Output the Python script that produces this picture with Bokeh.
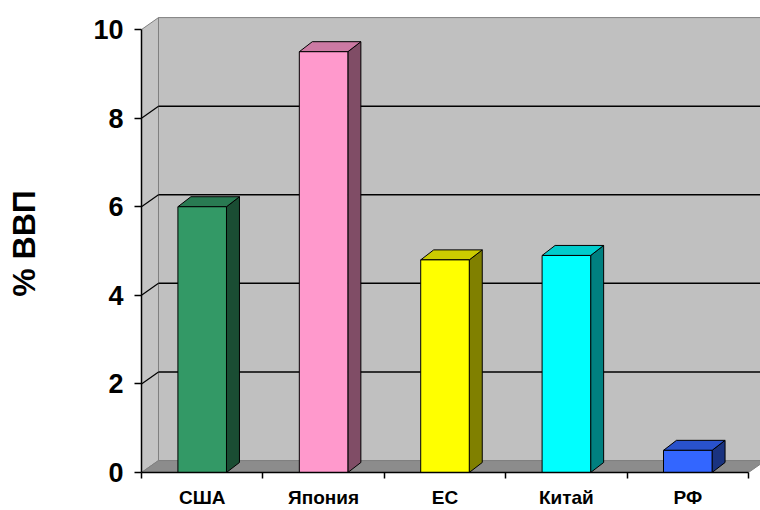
from bokeh.plotting import figure
from bokeh.models import FixedTicker, Range1d
from bokeh.embed import file_html
from bokeh.resources import INLINE

# ---- data ----
categories = ["США", "Япония", "ЕС", "Китай", "РФ"]
values = [6.0, 9.5, 4.8, 4.9, 0.5]
y_ticks = [0, 2, 4, 6, 8, 10]
y_label = "% ВВП"

# ---- styles ----
front_colors = ["#339966", "#FF99CC", "#FFFF00", "#00FFFF", "#3366FF"]
top_colors = ["#297A52", "#CC7AA3", "#CCCC00", "#00CCCC", "#2952CC"]
side_colors = ["#1A4D33", "#804D66", "#808000", "#008080", "#1A3380"]

FONT = "Liberation Sans"
N = len(categories)
Y_MAX = y_ticks[-1]
DX, DY = 0.14, 0.27      # wall depth offset (data units)
BDX, BDY = 0.107, 0.226  # bar depth offset (data units)
BAR_W = 0.40

p = figure(width=760, height=510,
           x_range=Range1d(0, N + 0.099), y_range=Range1d(0, Y_MAX + 0.34),
           output_backend="svg", toolbar_location=None,
           min_border_left=141, min_border_right=0,
           min_border_top=14, min_border_bottom=38)
p.grid.visible = False
p.outline_line_color = None
p.background_fill_color = "white"
p.border_fill_color = "white"

# back wall
p.patch([DX, N + DX, N + DX, DX], [DY, DY, Y_MAX + DY, Y_MAX + DY],
        fill_color="#C0C0C0", line_color="#808080", line_width=1)
# left side wall
p.patch([0, DX, DX, 0], [0, DY, Y_MAX + DY, Y_MAX],
        fill_color="#C4C4C4", line_color="#808080", line_width=1)
# floor
p.patch([0, N, N + DX, DX], [0, 0, DY, DY],
        fill_color="#8C8C8C", line_color="#808080", line_width=1)

# gridlines on back wall and left wall
gv = [v for v in y_ticks if 0 < v < Y_MAX]
p.segment(x0=[DX] * len(gv), y0=[v + DY for v in gv],
          x1=[N + DX] * len(gv), y1=[v + DY for v in gv],
          line_color="black", line_width=1.5)
p.segment(x0=[0] * len(gv), y0=gv, x1=[DX] * len(gv), y1=[v + DY for v in gv],
          line_color="black", line_width=1.2)

# bars
for i, v in enumerate(values):
    x0 = i + 0.5 - BAR_W / 2
    x1 = i + 0.5 + BAR_W / 2
    # side
    p.patch([x1, x1 + BDX, x1 + BDX, x1], [0, BDY, v + BDY, v],
            fill_color=side_colors[i], line_color="black", line_width=1)
    # top
    p.patch([x0, x1, x1 + BDX, x0 + BDX], [v, v, v + BDY, v + BDY],
            fill_color=top_colors[i], line_color="black", line_width=1)
    # front
    p.quad(left=x0, right=x1, bottom=0, top=v,
           fill_color=front_colors[i], line_color="black", line_width=1)

# y axis
ya = p.yaxis[0]
ya.ticker = FixedTicker(ticks=y_ticks, minor_ticks=[])
ya.bounds = (0, Y_MAX)
ya.axis_line_color = "black"
ya.axis_line_width = 1.5
ya.major_tick_out = 7
ya.major_tick_in = 0
ya.major_tick_line_color = "black"
ya.major_tick_line_width = 1.5
ya.major_label_text_font = FONT
ya.major_label_text_font_size = "27px"
ya.major_label_text_font_style = "bold"
ya.major_label_text_color = "black"
ya.major_label_standoff = 11
ya.axis_label = y_label
ya.axis_label_text_font = FONT
ya.axis_label_text_font_size = "32px"
ya.axis_label_text_font_style = "bold"
ya.axis_label_text_color = "black"
ya.axis_label_standoff = 48

# x axis
xa = p.xaxis[0]
xa.ticker = FixedTicker(ticks=[i + 0.5 for i in range(N)],
                        minor_ticks=list(range(N + 1)))
xa.major_label_overrides = {i + 0.5: c for i, c in enumerate(categories)}
xa.bounds = (0, N)
xa.axis_line_color = "black"
xa.axis_line_width = 1.5
xa.major_tick_out = 0
xa.major_tick_in = 0
xa.minor_tick_out = 6
xa.minor_tick_in = 0
xa.minor_tick_line_color = "black"
xa.minor_tick_line_width = 1.5
xa.major_label_text_font = FONT
xa.major_label_text_font_size = "19px"
xa.major_label_text_font_style = "bold"
xa.major_label_text_color = "black"
xa.major_label_standoff = 8

open("out.html", "w").write(file_html(p, INLINE))
